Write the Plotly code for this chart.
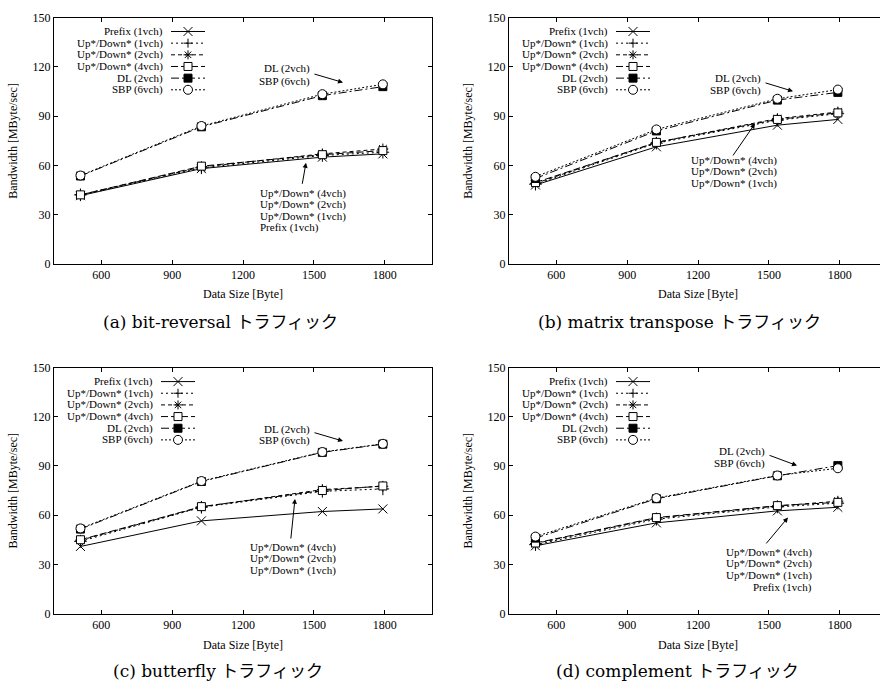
import plotly.graph_objects as go

# ---------------- data ----------------
x_bytes = [512, 1024, 1536, 1792]
series_names = ["Prefix (1vch)", "Up*/Down* (1vch)", "Up*/Down* (2vch)",
                "Up*/Down* (4vch)", "DL (2vch)", "SBP (6vch)"]

a_prefix = [41.5, 58.0, 65.0, 67.0]
a_ud1 = [42.0, 58.5, 66.0, 68.0]
a_ud2 = [42.0, 59.0, 67.0, 70.0]
a_ud4 = [42.0, 59.5, 66.5, 69.0]
a_dl = [53.5, 83.5, 102.5, 108.0]
a_sbp = [53.8, 84.0, 103.4, 109.4]

b_prefix = [48.0, 71.3, 84.5, 88.0]
b_ud1 = [48.5, 73.5, 87.5, 91.5]
b_ud2 = [49.0, 74.0, 88.5, 92.5]
b_ud4 = [49.5, 74.0, 88.0, 92.0]
b_dl = [52.0, 81.0, 99.8, 104.5]
b_sbp = [53.0, 81.9, 100.6, 106.2]

c_prefix = [40.9, 56.5, 62.2, 63.8]
c_ud1 = [44.0, 64.8, 74.5, 76.0]
c_ud2 = [44.7, 65.0, 75.6, 77.6]
c_ud4 = [45.0, 65.2, 75.0, 77.8]
c_dl = [51.5, 80.5, 98.3, 103.3]
c_sbp = [51.9, 80.8, 98.5, 103.5]

d_prefix = [41.3, 55.3, 62.6, 64.8]
d_ud1 = [42.0, 57.5, 65.0, 67.3]
d_ud2 = [42.7, 58.2, 65.6, 68.5]
d_ud4 = [43.0, 58.5, 65.8, 67.8]
d_dl = [46.0, 70.0, 84.0, 90.2]
d_sbp = [46.9, 70.4, 84.2, 88.6]

x_ticks = [600, 900, 1200, 1500, 1800]
y_ticks = [0, 30, 60, 90, 120, 150]
x_title = "Data Size [Byte]"
y_title = "Bandwidth [MByte/sec]"
caption_latin = ["(a) bit-reversal", "(b) matrix transpose", "(c) butterfly", "(d) complement"]
caption_jp = "トラフィック"
upper_label = ["DL (2vch)", "SBP (6vch)"]
lower_labels = {
    "a": ["Up*/Down* (4vch)", "Up*/Down* (2vch)", "Up*/Down* (1vch)", "Prefix (1vch)"],
    "b": ["Up*/Down* (4vch)", "Up*/Down* (2vch)", "Up*/Down* (1vch)"],
    "c": ["Up*/Down* (4vch)", "Up*/Down* (2vch)", "Up*/Down* (1vch)"],
    "d": ["Up*/Down* (4vch)", "Up*/Down* (2vch)", "Up*/Down* (1vch)", "Prefix (1vch)"],
}

panel_series = {
    "a": [a_prefix, a_ud1, a_ud2, a_ud4, a_dl, a_sbp],
    "b": [b_prefix, b_ud1, b_ud2, b_ud4, b_dl, b_sbp],
    "c": [c_prefix, c_ud1, c_ud2, c_ud4, c_dl, c_sbp],
    "d": [d_prefix, d_ud1, d_ud2, d_ud4, d_dl, d_sbp],
}

# ---------------- layout / style ----------------
W, H = 880, 694
X_MIN, X_MAX = 400, 2000
Y_MIN, Y_MAX = 0, 150
SERIF = "Liberation Serif"
LBL = 11

styles = [
    dict(dash="solid", symbol="x-thin", size=9, fill="black"),
    dict(dash="2px,3px", symbol="cross-thin", size=9, fill="black"),
    dict(dash="4px,3px", symbol="asterisk", size=9, fill="black"),
    dict(dash="7px,3px", symbol="square", size=8, fill="white"),
    dict(dash="8px,3px,2px,3px", symbol="square", size=8, fill="black"),
    dict(dash="2px,2px", symbol="circle", size=9, fill="white"),
]

geom = {
    "a": dict(left=54, right=432, top=11, bottom=262, idx=1),
    "b": dict(left=509, right=887, top=11, bottom=262, idx=2),
    "c": dict(left=54, right=432, top=368, bottom=619, idx=3),
    "d": dict(left=509, right=887, top=368, bottom=619, idx=4),
}

legend_geom = {
    "a": dict(text_right=165, x0=171, x1=205, mx=188, rows=[25, 36.9, 48.8, 60.7, 72.6, 84.5]),
    "b": dict(text_right=610, x0=616, x1=650, mx=633, rows=[25, 36.9, 48.8, 60.7, 72.6, 84.5]),
    "c": dict(text_right=155, x0=161, x1=195, mx=178, rows=[382.3, 394.2, 406.1, 418.0, 429.9, 441.8]),
    "d": dict(text_right=610, x0=616, x1=650, mx=633, rows=[382.3, 394.2, 406.1, 418.0, 429.9, 441.8]),
}

label_geom = {
    "a": dict(up_right=312, up_rows=[63, 76], up_tail=(313, 68), up_head=(343, 77),
              lo_x=258, lo_align="left", lo_rows=[190, 202, 213.5, 225.5],
              lo_tail=(302, 182), lo_head=(306, 159)),
    "b": dict(up_right=763, up_rows=[72.7, 85], up_tail=(764, 77), up_head=(793, 86),
              lo_x=689, lo_align="left", lo_rows=[156.7, 168.3, 180],
              lo_tail=(732, 153), lo_head=(755, 119)),
    "c": dict(up_right=311.7, up_rows=[431, 442.7], up_tail=(313, 434), up_head=(343, 443),
              lo_x=248.3, lo_align="left", lo_rows=[551.7, 563.3, 575],
              lo_tail=(290.7, 544), lo_head=(295, 502)),
    "d": dict(up_right=766.7, up_rows=[454, 465.7], up_tail=(768, 457), up_head=(797, 468),
              lo_x=814, lo_align="right", lo_rows=[556.7, 568.3, 580, 592.3],
              lo_tail=(765, 549), lo_head=(788, 521)),
}

caption_pos = {"a": (220, 320), "b": (679, 320), "c": (218, 676), "d": (677, 676)}
ytitle_x = {"a": 13, "b": 468, "c": 13, "d": 468}
xtitle_y = {"a": 293, "b": 293, "c": 651, "d": 651}


def pxx(v):
    return v / W


def pxy(v):
    return 1 - v / H


def data_x(p, g):
    return X_MIN + (p - g["left"]) / (g["right"] - g["left"]) * (X_MAX - X_MIN)


def data_y(p, g):
    return Y_MIN + (g["bottom"] - p) / (g["bottom"] - g["top"]) * (Y_MAX - Y_MIN)


fig = go.Figure()
annotations = []
shapes = []

for key, g in geom.items():
    i = g["idx"]
    xa = "x" if i == 1 else f"x{i}"
    ya = "y" if i == 1 else f"y{i}"
    xname = "xaxis" if i == 1 else f"xaxis{i}"
    yname = "yaxis" if i == 1 else f"yaxis{i}"
    right_vis = min(g["right"], W)
    x_end = data_x(right_vis, g)
    clipped = g["right"] > W

    for name, vals, st in zip(series_names, panel_series[key], styles):
        fig.add_trace(go.Scatter(
            x=x_bytes, y=vals, name=name, mode="lines+markers",
            xaxis=xa, yaxis=ya, showlegend=False, cliponaxis=False,
            line=dict(color="black", width=1, dash=st["dash"]),
            marker=dict(symbol=st["symbol"], size=st["size"], color=st["fill"],
                        line=dict(color="black", width=1)),
        ))

    axis_common = dict(showline=True, linecolor="black", linewidth=1, ticks="inside",
                       ticklen=4, tickcolor="black", tickwidth=1, showgrid=False,
                       zeroline=False,
                       tickfont=dict(family=SERIF, size=12, color="black"))
    fig.layout[xname] = dict(
        domain=[pxx(g["left"]), pxx(right_vis)], range=[X_MIN, x_end],
        tickvals=x_ticks, anchor=ya, mirror="allticks", **axis_common)
    fig.layout[yname] = dict(
        domain=[pxy(g["bottom"]), pxy(g["top"])], range=[Y_MIN, Y_MAX],
        tickvals=y_ticks, anchor=xa, mirror=(False if clipped else "allticks"),
        **axis_common)

    annotations.append(dict(xref="paper", yref="paper", x=pxx(ytitle_x[key]),
                            y=pxy((g["top"] + g["bottom"]) / 2), text=y_title, textangle=-90,
                            showarrow=False, xanchor="center", yanchor="middle",
                            font=dict(family=SERIF, size=12, color="black")))
    annotations.append(dict(xref="paper", yref="paper",
                            x=pxx((g["left"] + g["right"]) / 2), y=pxy(xtitle_y[key]),
                            text=x_title, showarrow=False, xanchor="center", yanchor="middle",
                            font=dict(family=SERIF, size=12, color="black")))
    cx, cy = caption_pos[key]
    cap = (f"<span style=\"font-family:'DejaVu Serif'\">{caption_latin[i - 1]} </span>"
           f"<span style=\"font-family:'Noto Sans CJK JP'\">{caption_jp}</span>")
    annotations.append(dict(xref="paper", yref="paper", x=pxx(cx), y=pxy(cy),
                            text=cap, showarrow=False, xanchor="center",
                            yanchor="middle",
                            font=dict(family="DejaVu Serif", size=17, color="black")))

    lg = legend_geom[key]
    for name, st, ry in zip(series_names, styles, lg["rows"]):
        annotations.append(dict(xref="paper", yref="paper", x=pxx(lg["text_right"]), y=pxy(ry),
                                text=name, showarrow=False, xanchor="right", yanchor="middle",
                                font=dict(family=SERIF, size=LBL, color="black")))
        shapes.append(dict(type="line", xref="paper", yref="paper",
                           x0=pxx(lg["x0"]), x1=pxx(lg["x1"]), y0=pxy(ry), y1=pxy(ry),
                           line=dict(color="black", width=1, dash=st["dash"])))
        base = dict(xref="paper", yref="paper", xsizemode="pixel", ysizemode="pixel",
                    xanchor=pxx(lg["mx"]), yanchor=pxy(ry), layer="above",
                    line=dict(color="black", width=1))
        r = st["size"] / 2
        if st["symbol"] == "x-thin":
            shapes.append(dict(type="path", path=f"M{-r},{-r}L{r},{r}M{-r},{r}L{r},{-r}", **base))
        elif st["symbol"] == "cross-thin":
            shapes.append(dict(type="path", path=f"M{-r},0L{r},0M0,{-r}L0,{r}", **base))
        elif st["symbol"] == "asterisk":
            q = r * 0.72
            shapes.append(dict(type="path",
                               path=f"M{-r},0L{r},0M0,{-r}L0,{r}M{-q},{-q}L{q},{q}M{-q},{q}L{q},{-q}",
                               **base))
        elif st["symbol"] == "square":
            shapes.append(dict(type="rect", x0=-r, x1=r, y0=-r, y1=r, fillcolor=st["fill"], **base))
        elif st["symbol"] == "circle":
            shapes.append(dict(type="circle", x0=-r, x1=r, y0=-r, y1=r, fillcolor=st["fill"], **base))

    lb = label_geom[key]
    for txt, ry in zip(upper_label, lb["up_rows"]):
        annotations.append(dict(xref=xa, yref=ya, x=data_x(lb["up_right"], g), y=data_y(ry, g),
                                text=txt, showarrow=False, xanchor="right", yanchor="middle",
                                font=dict(family=SERIF, size=LBL, color="black")))
    for txt, ry in zip(lower_labels[key], lb["lo_rows"]):
        annotations.append(dict(xref=xa, yref=ya, x=data_x(lb["lo_x"], g), y=data_y(ry, g),
                                text=txt, showarrow=False, xanchor=lb["lo_align"],
                                yanchor="middle",
                                font=dict(family=SERIF, size=LBL, color="black")))
    for tail, head in [(lb["up_tail"], lb["up_head"]), (lb["lo_tail"], lb["lo_head"])]:
        annotations.append(dict(xref=xa, yref=ya, axref=xa, ayref=ya,
                                x=data_x(head[0], g), y=data_y(head[1], g),
                                ax=data_x(tail[0], g), ay=data_y(tail[1], g),
                                text="", showarrow=True, arrowhead=2, arrowsize=1,
                                arrowwidth=1, arrowcolor="black", standoff=0, startstandoff=0))

fig.update_layout(
    width=W, height=H, autosize=False,
    margin=dict(l=0, r=0, t=0, b=0, pad=0),
    paper_bgcolor="white", plot_bgcolor="white",
    showlegend=False,
    annotations=annotations, shapes=shapes,
)

fig.write_html("out.html", config={"displayModeBar": False},
               post_script="document.body.style.margin='0';document.body.style.padding='0';")
